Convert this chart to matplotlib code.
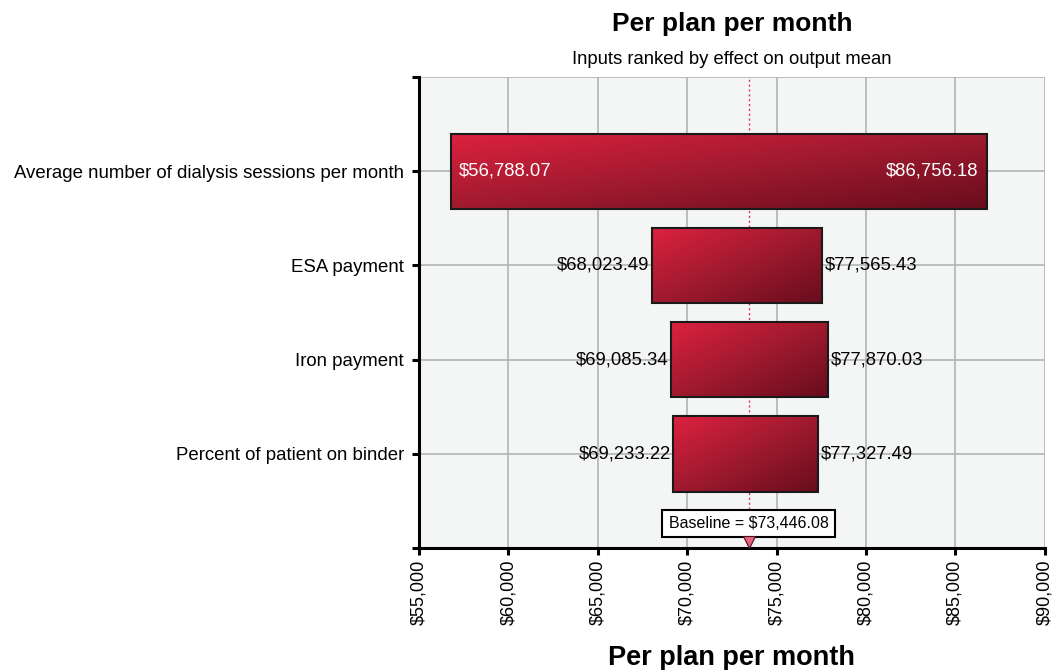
import numpy as np
import matplotlib
matplotlib.use("Agg")
import matplotlib.pyplot as plt
from matplotlib.patches import Rectangle
from matplotlib.colors import LinearSegmentedColormap

plt.rcParams['font.family'] = ['Liberation Sans', 'DejaVu Sans']

inputs = ["Average number of dialysis sessions per month", "ESA payment",
          "Iron payment", "Percent of patient on binder"]
low_vals = [56788.07, 68023.49, 69085.34, 69233.22]
high_vals = [86756.18, 77565.43, 77870.03, 77327.49]
baseline = 73446.08
xticks = [55000, 60000, 65000, 70000, 75000, 80000, 85000, 90000]

cmap = LinearSegmentedColormap.from_list("bar", ["#dc2140", "#a01a2e", "#680d1e"])

fig = plt.figure(figsize=(10.53, 6.70), dpi=100)
ax = fig.add_axes([0.398, 0.182, 0.594, 0.703])
ax.set_facecolor("#f4f6f5")

ax.set_xticks(xticks)
ax.set_xticklabels(["${:,}".format(t) for t in xticks], rotation=90, fontsize=13)
ax.set_yticks([0, 1, 2, 3, 4, 5])
ax.set_yticklabels([""] + inputs + [""], fontsize=13.4)
ax.grid(True, color="#b3b3b3", linewidth=1.2, zorder=0)
ax.set_axisbelow(True)
for s in ["top", "right"]:
    ax.spines[s].set_visible(False)
for s in ["left", "bottom"]:
    ax.spines[s].set_linewidth(2.2)
ax.tick_params(axis="both", length=5, width=2.2, colors="black")
ax.tick_params(axis="y", pad=6)

# baseline line
ax.axvline(baseline, color="#e0304e", linestyle=(0, (1.5, 2)), linewidth=1, zorder=1)

# gradient for bars
gy, gx = np.mgrid[0:1:100j, 0:1:100j]
grad = (gx + gy) / 2.0
for i, (lo, hi) in enumerate(zip(low_vals, high_vals)):
    yc = i + 1
    h = 0.8
    rect = Rectangle((lo, yc - h / 2), hi - lo, h, facecolor="none",
                     edgecolor="#1a1a1a", linewidth=1.5, zorder=3)
    ax.add_patch(rect)
    im = ax.imshow(grad, cmap=cmap, aspect="auto", extent=[lo, hi, yc + h / 2, yc - h / 2],
                   origin="upper", zorder=2, interpolation="bilinear")
    im.set_clip_path(rect)
    if i == 0:
        ax.text(lo + 450, yc, "${:,.2f}".format(lo), color="white", fontsize=13.3,
                ha="left", va="center", zorder=4)
        ax.text(hi - 450, yc, "${:,.2f}".format(hi), color="white", fontsize=13.3,
                ha="right", va="center", zorder=4)
    else:
        ax.text(lo - 150, yc, "${:,.2f}".format(lo), color="black", fontsize=13.3,
                ha="right", va="center", zorder=4)
        ax.text(hi + 150, yc, "${:,.2f}".format(hi), color="black", fontsize=13.3,
                ha="left", va="center", zorder=4)

ax.set_xlim(55000, 90000)
ax.set_ylim(5, 0)

# baseline label
ax.text(baseline, 4.74, "Baseline = ${:,.2f}".format(baseline), fontsize=11.5, ha="center",
        va="center", zorder=5,
        bbox=dict(boxstyle="square,pad=0.4", facecolor="white", edgecolor="black", linewidth=1.5))
ax.plot([baseline], [4.94], marker="v", markersize=8, color="#e8607a",
        markeredgecolor="#4a1020", markeredgewidth=0.8, zorder=6, clip_on=False)

ax.set_xlabel("Per plan per month", fontsize=19.5, fontweight="bold", labelpad=14)
fig.text(0.6952, 0.954, "Per plan per month", fontsize=19, fontweight="bold", ha="center",
         va="baseline")
fig.text(0.6952, 0.9045, "Inputs ranked by effect on output mean", fontsize=13.3, ha="center",
         va="baseline")

plt.savefig("out.png", dpi=100)
